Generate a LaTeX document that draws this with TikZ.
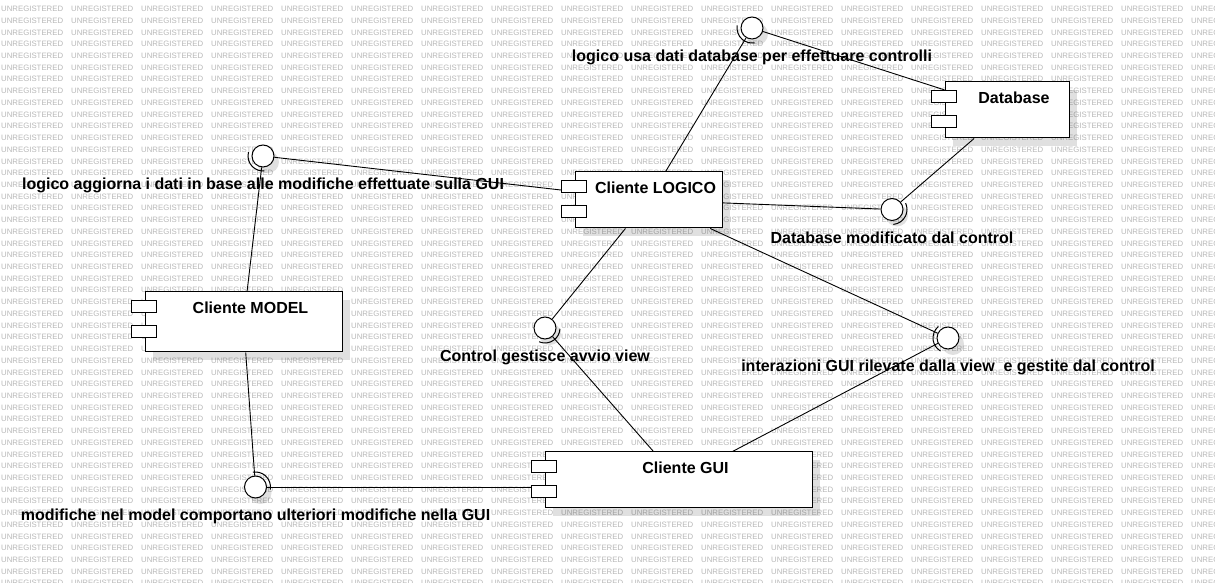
\documentclass[tikz,border=0pt]{standalone}
\usepackage{fontspec}
\setmainfont{Liberation Sans}
\usetikzlibrary{shadows}
\newcommand{\compicons}[1]{%
  \draw[icon] ([xshift=-13pt,yshift=-9pt]#1.north west) rectangle ++(25,-12);
  \draw[icon] ([xshift=-13pt,yshift=-34pt]#1.north west) rectangle ++(25,-12);}
\newcommand{\socket}[2]{%
  \pgfmathsetmacro{\sockstart}{#2-55}%
  \draw[sock] (#1.center) ++(\sockstart:15pt) arc[start angle=\sockstart, delta angle=110, radius=15pt];}

\begin{document}
\begin{tikzpicture}[x=1pt,y=1pt,
	comp/.style={draw, fill=white, line width=1pt, inner sep=0pt, text height=22pt,
		font=\fontsize{16}{18}\selectfont\bfseries,
		drop shadow={shadow xshift=8pt, shadow yshift=-8pt, opacity=0.12, fill=black}},
	icon/.style={draw, fill=white, line width=1pt},
	ball/.style={circle, draw, fill=white, line width=1pt, minimum size=22pt, inner sep=0pt,
		drop shadow={shadow xshift=5pt, shadow yshift=-6pt, opacity=0.12, fill=black}},
	sock/.style={line width=1pt},
	conn/.style={line width=0.9pt},
	lbl/.style={font=\fontsize{16}{18}\selectfont\bfseries, inner sep=0pt, text height=12pt, text depth=3pt},
	wm/.style={text=black!28, font=\fontsize{7.8}{8}\selectfont, inner sep=0pt, anchor=west}]
		\useasboundingbox (0,0) rectangle (1215,583);
		\fill[white] (0,0) rectangle (1215,583);

		% watermark
		\foreach \r in {0,...,49}
			\foreach \c in {0,...,17}
				\node[wm] (wm-\r-\c) at (1+70*\c, 574-11.72*\r) {UNREGISTERED};

		% components
		\node[comp, minimum width=147pt, text depth=34pt] (logico) at (648.5,383) {\hspace*{14pt}Cliente LOGICO};
		\node[comp, minimum width=124pt, text depth=34pt] (database) at (1007,473) {\hspace*{14pt}Database};
		\node[comp, minimum width=197pt, text depth=38pt] (model) at (243.5,261) {\hspace*{14pt}Cliente MODEL};
		\node[comp, minimum width=267pt, text depth=34pt] (gui) at (678.5,103) {\hspace*{14pt}Cliente GUI};

		% interfaces
		\node[ball] (usa) at (752,555) {};
		\node[ball] (aggiorna) at (263,427) {};
		\node[ball] (dbmod) at (892,373.5) {};
		\node[ball] (avvio) at (545,255) {};
		\node[ball] (interazioni) at (948,245) {};
		\node[ball] (modifiche) at (255.5,96) {};

		\node[lbl] (usa-txt) at ([yshift=-29.5pt]usa) {logico usa dati database per effettuare controlli};
		\node[lbl] (aggiorna-txt) at ([yshift=-29.5pt]aggiorna) {logico aggiorna i dati in base alle modifiche effettuate sulla GUI};
		\node[lbl] (dbmod-txt) at ([yshift=-29.5pt]dbmod) {Database modificato dal control};
		\node[lbl] (avvio-txt) at ([yshift=-29.5pt]avvio) {Control gestisce avvio view};
		\node[lbl] (interazioni-txt) at ([yshift=-29.5pt]interazioni) {interazioni GUI rilevate dalla view\ \ e gestite dal control};
		\node[lbl] (modifiche-txt) at ([yshift=-29.5pt]modifiche) {modifiche nel model comportano ulteriori modifiche nella GUI};

		% connectors
		\draw[conn] (usa) -- (logico);
		\draw[conn] (usa) -- (database);
		\draw[conn] (aggiorna) -- (logico);
		\draw[conn] (aggiorna) -- (model);
		\draw[conn] (dbmod) -- (logico);
		\draw[conn] (dbmod) -- (database);
		\draw[conn] (avvio) -- (logico);
		\draw[conn] (avvio) -- (gui);
		\draw[conn] (interazioni) -- (logico);
		\draw[conn] (interazioni) -- (gui);
		\draw[conn] (modifiche) -- (model);
		\draw[conn] (modifiche) -- (modifiche -| gui.west);

		\compicons{logico}
		\compicons{database}
		\compicons{model}
		\compicons{gui}

		\socket{usa}{225}
		\socket{aggiorna}{220}
		\socket{dbmod}{-30}
		\socket{avvio}{-58}
		\socket{interazioni}{185}
		\socket{modifiche}{45}
	\end{tikzpicture}
\end{document}
